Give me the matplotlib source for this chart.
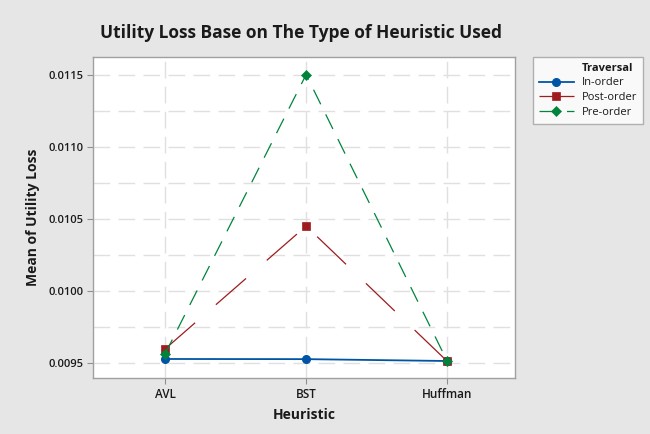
import matplotlib
matplotlib.use("Agg")
import matplotlib.pyplot as plt
from matplotlib.lines import Line2D
from matplotlib.ticker import MultipleLocator, FormatStrFormatter

plt.rcParams['font.family'] = ['Open Sans', 'DejaVu Sans']

heuristics = ["AVL", "BST", "Huffman"]
in_order = [0.009528, 0.009527, 0.009514]
post_order = [0.009597, 0.010451, 0.009512]
pre_order = [0.009562, 0.011503, 0.009512]
series_names = ["In-order", "Post-order", "Pre-order"]
y_ticks = [0.0095, 0.0100, 0.0105, 0.0110, 0.0115]

fig = plt.figure(figsize=(6.5, 4.34), dpi=100)
fig.patch.set_facecolor('#e6e6e6')
ax = fig.add_axes([93/650, 1-378/434, (515-93)/650, (378-57)/434])
ax.set_facecolor('white')

x = list(range(len(heuristics)))
l1, = ax.plot(x, in_order, color='#0054a6', lw=1.3, marker='o', ms=5.5,
              label=series_names[0], zorder=3)
l2, = ax.plot(x, post_order, color='#9e1b1e', lw=0.9, marker='s', ms=6,
              dashes=(32, 22), label=series_names[1], zorder=3)
l3, = ax.plot(x, pre_order, color='#00843d', lw=0.9, marker='D', ms=5.5,
              dashes=(13, 9), label=series_names[2], zorder=4)
for l in (l2, l3):
    l.set_markeredgewidth(0.5)

ax.set_xlim(-0.51, 2.48)
ax.set_ylim(0.009396, 0.011625)
ax.set_xticks(x)
ax.set_xticklabels(heuristics)
ax.set_yticks(y_ticks)
ax.yaxis.set_major_formatter(FormatStrFormatter('%.4f'))
ax.yaxis.set_minor_locator(MultipleLocator(0.00025))

ax.grid(True, which='major', axis='both', color='#e0e0e0', lw=1, dashes=(12, 6), zorder=0)
ax.grid(True, which='minor', axis='y', color='#e0e0e0', lw=1, dashes=(12, 6), zorder=0)
ax.set_axisbelow(True)
ax.tick_params(axis='both', which='major', length=4, color='#909090',
               labelcolor='#1a1a1a', pad=3)
ax.tick_params(axis='x', labelsize=8.5)
ax.tick_params(axis='y', labelsize=8)
ax.tick_params(axis='y', which='minor', length=0)
for lab in ax.get_xticklabels() + ax.get_yticklabels():
    lab.set_fontweight('semibold')
for s in ax.spines.values():
    s.set_color('#a0a0a0')
    s.set_linewidth(1)

ax.set_xlabel("Heuristic", fontsize=10, fontweight='bold', color='#1a1a1a', labelpad=5)
ax.set_ylabel("Mean of Utility Loss", fontsize=10, fontweight='bold', color='#1a1a1a', labelpad=6)
fig.text(301/650, 1-33/434, "Utility Loss Base on The Type of Heuristic Used",
         ha='center', va='center', fontsize=12.5, fontweight='bold', color='#1a1a1a')

title_handle = Line2D([], [], linestyle='none', marker=None)
leg = fig.legend(handles=[title_handle, l1, l2, l3],
                 labels=["Traversal"] + series_names, loc='upper left',
                 bbox_to_anchor=(533/650, 1-57/434),
                 fontsize=8, frameon=True, fancybox=False, edgecolor='#a0a0a0',
                 handlelength=3.2, labelspacing=0.35, borderpad=0.5,
                 handletextpad=0.7, borderaxespad=0)
leg.get_frame().set_linewidth(1)
leg.get_texts()[0].set_fontweight('bold')
for t in leg.get_texts():
    t.set_color('#1a1a1a')

fig.savefig("out.png", dpi=100, facecolor=fig.get_facecolor())
